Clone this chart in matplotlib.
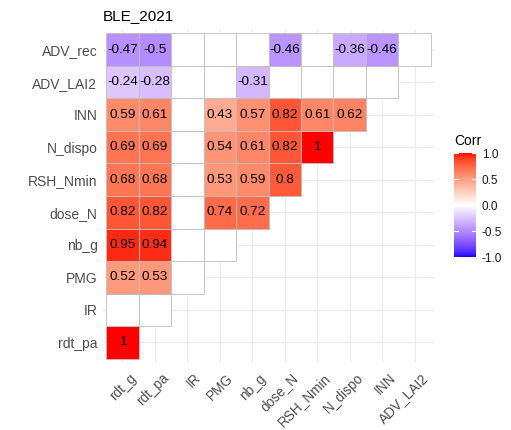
import numpy as np
import matplotlib
matplotlib.use("Agg")
import matplotlib.pyplot as plt
import matplotlib.transforms as mtransforms
from matplotlib.colors import ListedColormap, Normalize
from matplotlib.patches import Rectangle

plt.rcParams['font.family'] = ['Liberation Sans', 'DejaVu Sans']

x_vars = ["rdt_g", "rdt_pa", "IR", "PMG", "nb_g", "dose_N",
          "RSH_Nmin", "N_dispo", "INN", "ADV_LAI2"]
y_vars = ["rdt_pa", "IR", "PMG", "nb_g", "dose_N", "RSH_Nmin",
          "N_dispo", "INN", "ADV_LAI2", "ADV_rec"]

nan = np.nan
# lower triangle, one list per row (bottom to top); nan = not significant
corr = [
    [1],
    [nan, nan],
    [0.52, 0.53, nan],
    [0.95, 0.94, nan, nan],
    [0.82, 0.82, nan, 0.74, 0.72],
    [0.68, 0.68, nan, 0.53, 0.59, 0.80],
    [0.69, 0.69, nan, 0.54, 0.61, 0.82, 1],
    [0.59, 0.61, nan, 0.43, 0.57, 0.82, 0.61, 0.62],
    [-0.24, -0.28, nan, nan, -0.31, nan, nan, nan, nan],
    [-0.47, -0.50, nan, nan, nan, -0.46, nan, -0.36, -0.46, nan],
]


def srgb_to_lab(rgb):
    rgb = np.asarray(rgb, float)
    lin = np.where(rgb <= 0.04045, rgb / 12.92, ((rgb + 0.055) / 1.055) ** 2.4)
    m = np.array([[0.4124, 0.3576, 0.1805],
                  [0.2126, 0.7152, 0.0722],
                  [0.0193, 0.1192, 0.9505]])
    xyz = m @ lin / np.array([0.95047, 1.0, 1.08883])
    f = np.where(xyz > 0.008856, np.cbrt(xyz), 7.787 * xyz + 16 / 116)
    return np.array([116 * f[1] - 16, 500 * (f[0] - f[1]), 200 * (f[1] - f[2])])


def lab_to_srgb(lab):
    L, a, b = lab
    fy = (L + 16) / 116
    fx = fy + a / 500
    fz = fy - b / 200
    f = np.array([fx, fy, fz])
    xyz = np.where(f ** 3 > 0.008856, f ** 3, (f - 16 / 116) / 7.787)
    xyz = xyz * np.array([0.95047, 1.0, 1.08883])
    m = np.array([[3.2406, -1.5372, -0.4986],
                  [-0.9689, 1.8758, 0.0415],
                  [0.0557, -0.2040, 1.0570]])
    lin = m @ xyz
    rgb = np.where(lin <= 0.0031308, 12.92 * lin, 1.055 * np.clip(lin, 0, None) ** (1 / 2.4) - 0.055)
    return np.clip(rgb, 0, 1)


# blue - white - red, interpolated in Lab
lab_lo = srgb_to_lab([0, 0, 1])
lab_mid = srgb_to_lab([1, 1, 1])
lab_hi = srgb_to_lab([1, 0, 0])
cols = []
for t in np.linspace(0, 1, 256):
    if t < 0.5:
        lab = lab_lo + (lab_mid - lab_lo) * (t / 0.5)
    else:
        lab = lab_mid + (lab_hi - lab_mid) * ((t - 0.5) / 0.5)
    cols.append(lab_to_srgb(lab))
cmap = ListedColormap(cols)
norm = Normalize(-1, 1)

fig = plt.figure(figsize=(5.11, 4.30), dpi=100)
ax = fig.add_axes([103 / 511, 1 - 362 / 430, 331 / 511, 332 / 430])

for yi, row in enumerate(corr, start=1):
    for xi, v in enumerate(row, start=1):
        fc = "white" if np.isnan(v) else cmap(norm(v))
        ax.add_patch(Rectangle((xi - 0.5, yi - 0.5), 1, 1, facecolor=fc,
                               edgecolor="#BEBEBE", linewidth=0.6, zorder=2))
        if not np.isnan(v):
            ax.text(xi, yi, f"{round(v, 2):g}", ha="center", va="center",
                    fontsize=9.7, color="black", zorder=3)

ax.set_xlim(0.4, 10.6)
ax.set_ylim(0.4, 10.6)
ax.set_xticks(range(1, 11))
ax.set_yticks(range(1, 11))
ax.set_xticklabels(x_vars, rotation=45, ha="right", va="top",
                   rotation_mode="anchor", fontsize=9.8, color="#4D4D4D")
ax.set_yticklabels(y_vars, fontsize=10, color="#4D4D4D")
ax.tick_params(length=0, pad=4)
# nudge the rotated labels right/down a little
shift = mtransforms.ScaledTranslation(0.065, -0.035, fig.dpi_scale_trans)
for lbl in ax.get_xticklabels():
    lbl.set_transform(lbl.get_transform() + shift)
ax.grid(True, color="#EBEBEB", linewidth=0.8, zorder=0)
ax.set_axisbelow(True)
for s in ax.spines.values():
    s.set_visible(False)
ax.set_title("BLE_2021", loc="left", fontsize=11, color="black", pad=7)

# colour bar legend
cax = fig.add_axes([454 / 511, 1 - 257 / 430, 22 / 511, 104 / 430])
grad = np.linspace(-1, 1, 256).reshape(-1, 1)
cax.imshow(grad, aspect="auto", cmap=cmap, norm=norm, origin="lower",
           extent=[0, 1, -1, 1])
for tk in [-1, -0.5, 0, 0.5, 1]:
    cax.plot([0, 0.2], [tk, tk], color="white", lw=0.8)
    cax.plot([0.8, 1], [tk, tk], color="white", lw=0.8)
cax.set_xlim(0, 1)
cax.set_ylim(-1, 1)
cax.set_xticks([])
cax.yaxis.tick_right()
cax.set_yticks([-1, -0.5, 0, 0.5, 1])
cax.set_yticklabels(["-1.0", "-0.5", "0.0", "0.5", "1.0"], fontsize=8.5, color="#1A1A1A")
cax.tick_params(length=0, pad=4)
for s in cax.spines.values():
    s.set_visible(False)
fig.text(454 / 511, 1 - 141 / 430, "Corr", fontsize=10, va="center", ha="left")

fig.savefig("out.png", dpi=100)
